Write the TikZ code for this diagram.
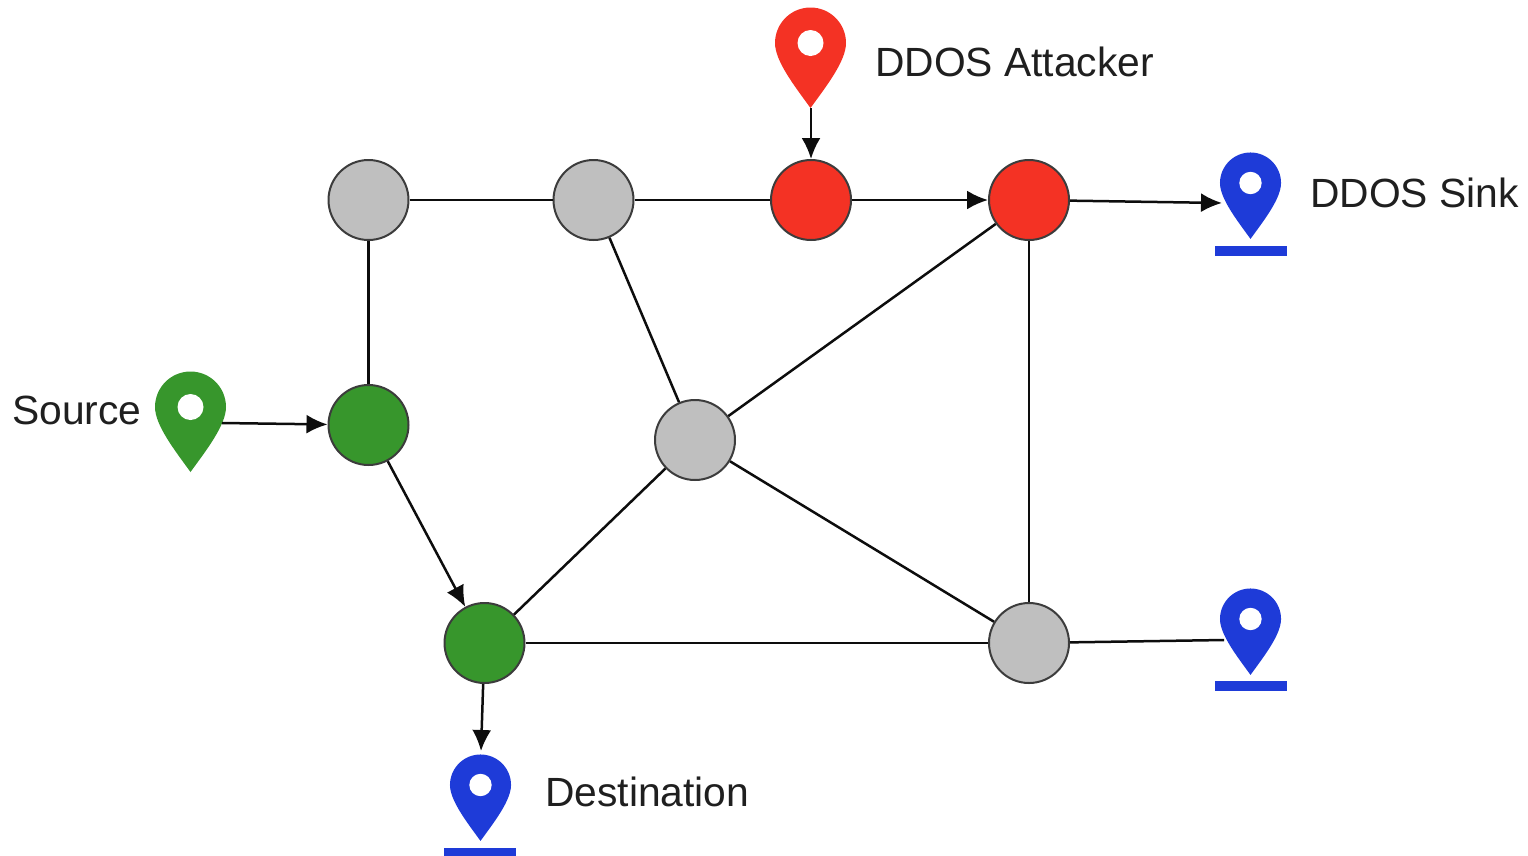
\documentclass[tikz,border=0pt]{standalone}
\usepackage{fontspec}
\setmainfont{Liberation Sans}
\usetikzlibrary{arrows.meta}
\definecolor{cgray}{HTML}{BFBFBF}
\definecolor{cred}{HTML}{F43224}
\definecolor{cgreen}{HTML}{37962C}
\definecolor{cblue}{HTML}{1E3BD8}
\definecolor{cedge}{HTML}{3C3C3C}
\tikzset{
  x=1pt,y=-1pt,
  netnode/.style={circle,draw=cedge,line width=2pt,minimum size=80pt,inner sep=0pt},
  link/.style={draw=black!95,line width=2.5pt},
  flow/.style={link,-{Latex[length=21pt,width=19pt]}},
  lab/.style={anchor=base west,inner sep=0pt,text=black!88,font=\fontsize{40.8pt}{44pt}\selectfont},
  pinmark/.pic={
    \fill[#1] (-35.5,0) arc[start angle=180,end angle=360,radius=35.5]
      .. controls (35.5,18) and (16,43) .. (0,65)
      .. controls (-16,43) and (-35.5,18) .. (-35.5,0) -- cycle;
    \fill[white] (0,0) circle[radius=13];
  },
  pinbar/.pic={\fill[cblue] (-36,0) rectangle (36,10);}
}
\begin{document}
\begin{tikzpicture}
\useasboundingbox (0,0) rectangle (1528,855);
% map pins
\pic at (810.5,43) {pinmark=cred};
\pic at (190.5,407) {pinmark=cgreen};
\pic[scale=0.86] at (1250.5,183) {pinmark=cblue};
\pic at (1250.5,246) {pinbar};
\pic[scale=0.86] at (1250.5,619) {pinmark=cblue};
\pic at (1250.5,681) {pinbar};
\pic[scale=0.86] at (480.5,785) {pinmark=cblue};
\pic at (480,848) {pinbar};
% connector ends on the pins
\coordinate (pinAttack) at (811,108);
\coordinate (pinSource) at (222,423);
\coordinate (pinSink) at (1222,203);
\coordinate (pinOther) at (1224,640);
\coordinate (pinDest) at (481,751);
% network nodes
\node[netnode,fill=cgray] (a) at (368.5,200) {};
\node[netnode,fill=cgray] (b) at (593.5,200) {};
\node[netnode,fill=cred] (c) at (811,200) {};
\node[netnode,fill=cred] (d) at (1029,200) {};
\node[netnode,fill=cgreen] (e) at (368.5,425) {};
\node[netnode,fill=cgray] (f) at (695,440) {};
\node[netnode,fill=cgreen] (g) at (484.5,643) {};
\node[netnode,fill=cgray] (h) at (1029,643) {};
% links
\draw[link] (a) -- (b);
\draw[link] (b) -- (c);
\draw[link] (a) -- (e);
\draw[link] (b) -- (f);
\draw[link] (f) -- (d);
\draw[link] (f) -- (g);
\draw[link] (f) -- (h);
\draw[link] (d) -- (h);
\draw[link] (g) -- (h);
\draw[link] (h) -- (pinOther);
\draw[flow] (c) -- (d);
\draw[flow] (e) -- (g);
\draw[flow] (pinAttack) -- (c);
\draw[flow] (pinSource) -- (e);
\draw[flow] (d) -- (pinSink);
\draw[flow] (g) -- (pinDest);
% labels
\node[lab] (tAttack) at (875,76) {DDOS Attacker};
\node[lab] (tSink) at (1310,207) {DDOS Sink};
\node[lab] (tSource) at (12,424) {Source};
\node[lab] (tDest) at (545,806) {Destination};
\end{tikzpicture}
\end{document}
